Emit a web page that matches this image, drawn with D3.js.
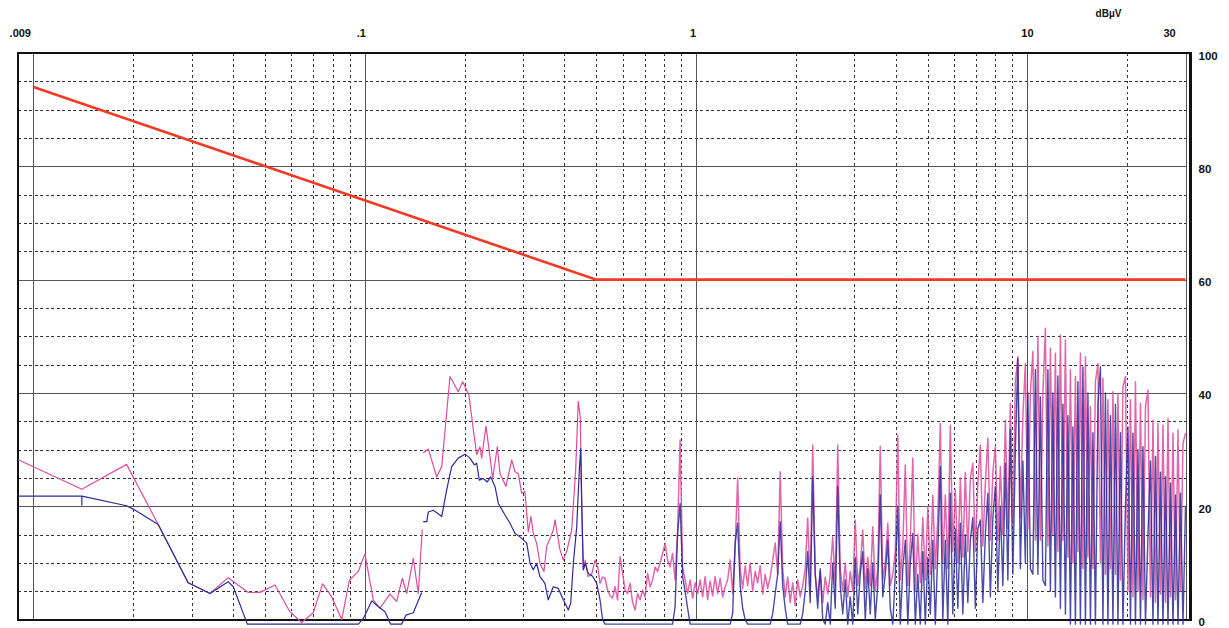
<!DOCTYPE html>
<html>
<head>
<meta charset="utf-8">
<script src="https://cdn.jsdelivr.net/npm/d3@7"></script>
<style>
  body { margin: 0; background: #fff; }
  text { font-family: "Liberation Sans", Arial, sans-serif; font-weight: bold; fill: #111; }
</style>
</head>
<body>
<div id="chart"></div>
<script>
// axis labels
const xTickValues = [0.009, 0.1, 1, 10, 30];
const xTickLabels = [".009", ".1", "1", "10", "30"];
const yTickValues = [0, 20, 40, 60, 80, 100];
const unitLabel = "dBµV";

// limit line
const limitFreq = [0.01, 0.5, 30];
const limitLevel = [94, 60, 60];

// band A (9 - 150 kHz)
const pinkFreqA = [0.009, 0.014, 0.0191, 0.0238, 0.0293, 0.0341, 0.0387, 0.0445, 0.0483, 0.0536, 0.0594, 0.0645, 0.0699, 0.0746, 0.0795, 0.0852, 0.0898, 0.0956, 0.1001, 0.1061, 0.1111, 0.1191, 0.1248, 0.1298, 0.1338, 0.1401, 0.145, 0.1491];
const pinkLevelA = [28.2, 23.0, 27.4, 16.8, 6.5, 4.6, 7.4, 4.8, 4.8, 6.1, 1.4, -0.5, 1.2, 6.3, 4.0, 0, 6.9, 8.5, 11.6, 3.5, 2.0, 4.5, 3.2, 7.3, 4.6, 10.8, 4.6, 15.9];
const blueFreqA = [0.009, 0.014, 0.014, 0.014, 0.0191, 0.02, 0.0238, 0.0293, 0.0341, 0.0387, 0.0401, 0.0442, 0.0956, 0.099, 0.1049, 0.1098, 0.1151, 0.1197, 0.1292, 0.1332, 0.1401, 0.1485];
const blueLevelA = [21.8, 21.8, 20.2, 21.8, 20.1, 19.5, 16.8, 6.5, 4.6, 6.7, 5.8, -0.8, -0.8, 0.2, 3.3, 2.3, 1.4, -0.8, -0.8, 0.8, 1.2, 4.8];

// band B (150 kHz - 0.5 MHz)
const pinkFreqB = [0.15, 0.1556, 0.1648, 0.1707, 0.1808, 0.1915, 0.1975, 0.2063, 0.2126, 0.2177, 0.2227, 0.2253, 0.2322, 0.2387, 0.2432, 0.2512, 0.2559, 0.2668, 0.2776, 0.284, 0.2906, 0.2975, 0.3044, 0.3115, 0.3174, 0.3226, 0.33, 0.3379, 0.3474, 0.354, 0.364, 0.3706, 0.3751, 0.3795, 0.3883, 0.3974, 0.4067, 0.4211, 0.433, 0.4409, 0.4472, 0.4507, 0.4567, 0.4629, 0.4724, 0.4841, 0.4953, 0.5047];
const pinkLevelB = [29.4, 30.1, 25.2, 27.0, 42.9, 40.2, 42.0, 39.6, 33.5, 29.1, 30.5, 28.5, 34.1, 28.8, 24.9, 30.5, 25.8, 23.5, 28.2, 26.1, 25.8, 22.3, 22.6, 15.5, 18.2, 15.2, 13.5, 9.9, 8.5, 12.9, 14.6, 15.8, 17.6, 15.8, 12.3, 10.5, 12.0, 15.8, 26.4, 38.5, 35.8, 22, 8.8, 10.5, 7.6, 8, 10.5, 9.3];
const blueFreqB = [0.15, 0.1538, 0.1556, 0.161, 0.1707, 0.1767, 0.1829, 0.1915, 0.2006, 0.2077, 0.2142, 0.2177, 0.2216, 0.2278, 0.2343, 0.2396, 0.2472, 0.253, 0.2618, 0.2743, 0.284, 0.2941, 0.3082, 0.3155, 0.3226, 0.33, 0.3379, 0.3497, 0.3579, 0.3706, 0.3838, 0.3974, 0.4114, 0.4184, 0.426, 0.4362, 0.4441, 0.4485, 0.4535, 0.4567, 0.4629, 0.4724, 0.4875, 0.5013];
const blueLevelB = [17.3, 17.3, 19.0, 19.3, 18.2, 22.9, 27.0, 28.5, 29.2, 28.5, 27.3, 27.6, 24.6, 24.9, 24.3, 25.2, 23.5, 20.5, 19.0, 17.0, 15.2, 14.6, 13.5, 9.9, 8.8, 9.9, 7.6, 6.4, 3.5, 5.8, 5.5, 3.5, 1.7, 2.9, 9.9, 16.4, 26.4, 30.2, 15.8, 8.8, 9.9, 8.2, 7.6, 6.4];

// sweep 0.513 - 30 MHz, log spaced points
const sweepStart = 0.513, sweepStop = 30;
const pinkSweep = [
  6.4, 7.5, 7.3, 5.2, 4.2, 3.8, 5.8, 3.5, 11.1, 8.2,
  5.2, 4.6, 6.4, 3.0, 1.7, 4.6, 3.5, 5.2, 4.0, 8.2,
  5.8, 7.0, 9.3, 8.5, 10.0, 11.7, 13.5, 10.5, 9.3, 11.7,
  7.0, 15.8, 31.7, 9.3, 7.0, 4.6, 7.0, 3.8, 6.5, 4.6,
  7.0, 4.0, 7.6, 3.5, 6.8, 4.2, 7.6, 4.6, 7.3, 4.0,
  5.8, 7.0, 10.5, 4.6, 12.9, 25.0, 9.0, 5.5, 9.5, 6.0,
  10.0, 5.0, 8.5, 6.5, 9.5, 4.5, 8.0, 5.5, 7.5, 10.5,
  13.5, 8.0, 26.1, 9.0, 4.0, 7.5, 3.0, 6.5, 2.5, 7.0,
  4.0, 6.0, 9.0, 17.9, 6.0, 30.8, 8.0, 4.0, 8.5, 3.0,
  7.5, 4.5, 8.0, 14.6, 6.0, 30.8, 9.0, 5.0, 10.0, 4.0,
  8.5, 5.0, 17.6, 6.0, 9.5, 15.8, 5.5, 11.0, 6.0, 16.4,
  5.0, 9.0, 30.6, 7.0, 10.0, 17.0, 6.0, 8.0, 12.0, 32.6,
  7.0, 13.0, 27.3, 6.0, 14.0, 28.5, 5.0, 15.0, 6.5, 18.0,
  7.0, 20.0, 8.0, 22.0, 9.0, 18.0, 34.6, 10.0, 22.0, 9.0,
  34.3, 12.0, 23.0, 10.0, 25.0, 11.0, 26.0, 12.0, 25.0, 27.6,
  12.0, 24.0, 30.8, 13.0, 24.0, 32.0, 14.0, 26.0, 30.5, 14.0,
  27.0, 15.0, 35.2, 16.0, 38.2, 17.0, 42.0, 46.4, 18.0, 36.0,
  45.2, 16.0, 40.0, 47.3, 14.0, 50.0, 14.0, 40.0, 51.4, 13.0,
  47.9, 15.0, 47.0, 12.0, 50.2, 14.0, 49.4, 11.0, 44.1, 10.0,
  42.9, 12.0, 47.0, 9.0, 46.4, 11.0, 37.6, 9.0, 42.0, 45.2,
  10.0, 42.6, 8.0, 38.8, 9.0, 40.2, 8.0, 39.9, 7.0, 41.1,
  42.9, 5.0, 38.8, 4.0, 42.0, 5.0, 38.2, 3.5, 37.6, 40.5,
  4.0, 35.2, 3.0, 34.6, 4.5, 34.3, 3.0, 35.5, 4.0, 32.9,
  3.5, 33.5, 5.0, 31.1, 32.9
];
const blueSweep = [
  3.5, 0, -0.8, -0.8, -0.8, -0.8, -0.8, -0.8, -0.8, -0.8,
  -0.8, -0.8, -0.8, -0.8, -0.8, -0.8, -0.8, -0.8, -0.8, -0.8,
  -0.8, -0.8, -0.8, -0.8, -0.8, -0.8, -0.8, -0.8, -0.8, -0.8,
  2.3, 15.2, 20.5, 7.6, 5.0, 2.0, -0.8, -0.8, -0.8, -0.8,
  -0.8, -0.8, -0.8, -0.8, -0.8, -0.8, -0.8, -0.8, -0.8, -0.8,
  -0.8, -0.8, -0.8, 1.1, 13.5, 17.0, 6.0, 2.0, 0, -0.8,
  -0.8, -0.8, -0.8, -0.8, -0.8, -0.8, -0.8, -0.8, -0.8, 1.0,
  4.6, 8.0, 17.3, 6.0, 2.0, -0.8, -0.8, -0.8, -0.8, -0.8,
  -0.8, 1.0, 5.0, 12.0, 3.0, 25.2, 8.0, 2.0, 9.0, 0,
  -0.8, 3.0, -0.8, 10.0, 2.0, 23.5, 6.0, 1.0, 7.0, -0.8,
  4.0, -0.8, 11.0, 1.0, 8.0, 12.0, 0, 9.0, 1.0, 10.0,
  0, 6.0, 22.0, 4.0, 8.0, 14.0, 2.0, -0.8, 8.0, 20.0,
  -0.8, 9.0, 14.0, -0.8, 10.0, 15.2, -0.8, 8.0, -0.8, 12.0,
  -0.8, 11.0, 1.0, 14.0, -0.8, 12.0, 27.0, 0, 14.0, -0.8,
  22.3, 1.0, 16.0, 2.0, 17.0, 1.0, 15.0, 3.0, 14.0, 18.0,
  2.0, 16.0, 17.6, 3.0, 15.0, 22.3, 4.0, 18.0, 23.5, 5.0,
  20.0, 6.0, 27.6, 7.0, 33.5, 8.0, 30.0, 46.1, 9.0, 28.0,
  10.0, 40.0, 9.0, 8.0, 44.1, 8.0, 39.3, 7.0, 6.0, 44.1,
  5.0, 40.0, 4.0, 43.0, 2.0, 38.0, 1.0, 36.0, -0.8, 34.0,
  -0.8, 42.0, -0.8, 44.6, -0.8, 40.0, -0.8, 33.0, -0.8, 38.0,
  44.6, -0.8, 40.0, -0.8, 36.0, -0.8, 38.0, -0.8, 33.0, -0.8,
  20.0, 34.0, -0.8, 32.9, -0.8, 30.0, -0.8, 30.5, -0.8, 15.0,
  28.0, -0.8, 28.8, -0.8, 26.0, -0.8, 25.2, -0.8, 24.1, -0.8,
  22.0, -0.8, 22.3, -0.8, 20.0
];

const width = 1229, height = 628;
const svg = d3.select("#chart").append("svg")
    .attr("width", width)
    .attr("height", height)
    .style("display", "block");

const x = d3.scaleLog().domain([0.009, 30]).range([18.3, 1185.5]);
const y = d3.scaleLinear().domain([0, 100]).range([619.6, 53]);

const plotTop = y(100), plotBottom = y(0), plotLeft = x(0.009), plotRight = x(30);

// grid
const decades = [0.01, 0.1, 1, 10];
const minorX = x.ticks().filter(v => v > 0.0095 && v < 29 && !decades.some(d => Math.abs(v - d) / d < 1e-6));
const grid = svg.append("g").attr("shape-rendering", "crispEdges");

grid.selectAll(".vminor").data(minorX).enter().append("line")
    .attr("x1", d => Math.round(x(d)) + 0.5).attr("x2", d => Math.round(x(d)) + 0.5)
    .attr("y1", plotTop).attr("y2", plotBottom)
    .attr("stroke", "#333").attr("stroke-dasharray", "2.5,3");

const minorY = d3.range(5, 100, 5).filter(v => v % 20 != 0);
grid.selectAll(".hminor").data(minorY).enter().append("line")
    .attr("y1", d => Math.round(y(d)) + 0.5).attr("y2", d => Math.round(y(d)) + 0.5)
    .attr("x1", plotLeft).attr("x2", plotRight)
    .attr("stroke", "#333").attr("stroke-dasharray", "3,2.5");

grid.selectAll(".vmajor").data(decades.concat([30])).enter().append("line")
    .attr("x1", d => Math.round(x(d)) + 0.5).attr("x2", d => Math.round(x(d)) + 0.5)
    .attr("y1", plotTop).attr("y2", plotBottom)
    .attr("stroke", "#555");

grid.selectAll(".hmajor").data([20, 40, 60, 80]).enter().append("line")
    .attr("y1", d => Math.round(y(d)) + 0.5).attr("y2", d => Math.round(y(d)) + 0.5)
    .attr("x1", plotLeft).attr("x2", plotRight)
    .attr("stroke", "#555");

// frame
const frame = svg.append("g").attr("shape-rendering", "crispEdges").attr("stroke", "#111").attr("fill", "none");
frame.append("line").attr("x1", 17).attr("x2", 1192).attr("y1", 53).attr("y2", 53).attr("stroke-width", 2);
frame.append("line").attr("x1", 17).attr("x2", 1192).attr("y1", 620).attr("y2", 620).attr("stroke-width", 2);
frame.append("line").attr("x1", 18).attr("x2", 18).attr("y1", 52).attr("y2", 621).attr("stroke-width", 2);
frame.append("line").attr("x1", 1190.5).attr("x2", 1190.5).attr("y1", 52).attr("y2", 621).attr("stroke-width", 2.5);

// traces
const line = d3.line().x(d => x(d[0])).y(d => y(d[1]));
const sweepFreq = pinkSweep.map((v, i) => sweepStart * Math.pow(sweepStop / sweepStart, i / (pinkSweep.length - 1)));

const pinkA = pinkFreqA.map((f, i) => [f, pinkLevelA[i]]);
const pinkB = pinkFreqB.map((f, i) => [f, pinkLevelB[i]]).concat([[sweepFreq[0], pinkSweep[0]]]);
const pinkS = pinkSweep.map((v, i) => [sweepFreq[i], v]);
const blueA = blueFreqA.map((f, i) => [f, blueLevelA[i]]);
const blueB = blueFreqB.map((f, i) => [f, blueLevelB[i]]).concat([[sweepFreq[0], blueSweep[0]]]);
const blueS = blueSweep.map((v, i) => [sweepFreq[i], v]);

const pinkColor = "#dc4c9e", blueColor = "#2b2b98";

function drawTrace(cls, sets, color, w, op) {
    svg.selectAll("." + cls).data(sets).enter().append("path")
        .attr("class", cls)
        .attr("d", line)
        .attr("fill", "none")
        .attr("stroke", color)
        .attr("stroke-width", w)
        .attr("stroke-opacity", op)
        .attr("stroke-linejoin", "round");
}

drawTrace("pink", [pinkA, pinkB], pinkColor, 1.2, 1);
drawTrace("pinks", [pinkS], pinkColor, 1.5, 0.85);
drawTrace("blue", [blueA, blueB], blueColor, 1.2, 1);
drawTrace("blues", [blueS], blueColor, 1.4, 0.85);

// limit
svg.append("path")
    .datum(limitFreq.map((f, i) => [f, limitLevel[i]]))
    .attr("d", line)
    .attr("fill", "none")
    .attr("stroke", "#f03a26")
    .attr("stroke-width", 2.6);

// labels
const xLabelShift = { ".009": 2, ".1": -3.5, "1": -3, "10": 0, "30": -16 };
svg.selectAll(".xlab").data(xTickValues).enter().append("text")
    .attr("x", (d, i) => x(d) + xLabelShift[xTickLabels[i]])
    .attr("y", 37)
    .attr("text-anchor", "middle")
    .style("font-size", "11px")
    .text((d, i) => xTickLabels[i]);

svg.selectAll(".ylab").data(yTickValues).enter().append("text")
    .attr("x", 1198.5)
    .attr("y", d => y(d) + 6.5)
    .style("font-size", "11.5px")
    .text(d => d);

svg.append("text")
    .attr("x", 1108.5)
    .attr("y", 17)
    .attr("text-anchor", "middle")
    .style("font-size", "10px")
    .text(unitLabel);
</script>
</body>
</html>
